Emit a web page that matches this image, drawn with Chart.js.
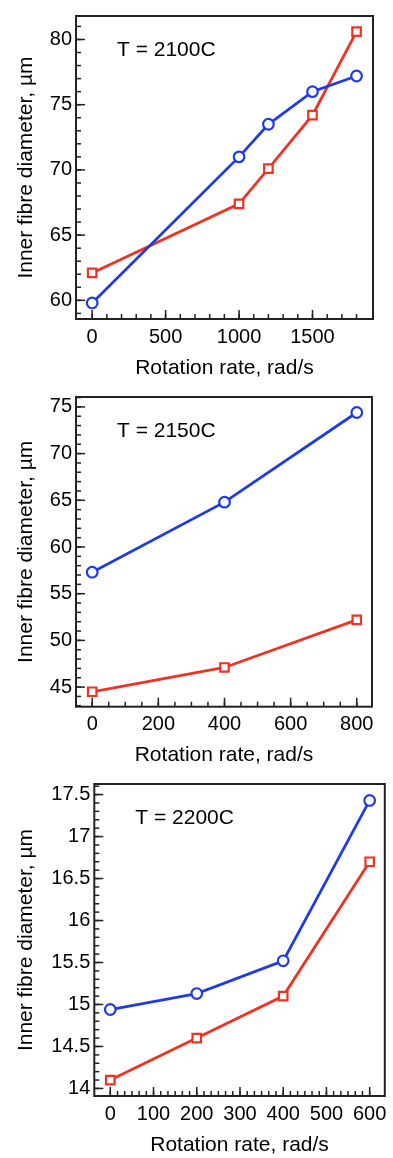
<!DOCTYPE html>
<html lang="en">
<head>
  <meta charset="UTF-8">
  <title>Inner fibre diameter vs rotation rate</title>
  <script src="https://cdn.jsdelivr.net/npm/chart.js"></script>
  <style>
    body { margin: 0; background: #fff; }
    canvas { display: block; }
  </style>
</head>
<body>
  <canvas id="chart2100" width="393" height="381"></canvas>
  <canvas id="chart2150" width="393" height="387"></canvas>
  <canvas id="chart2200" width="393" height="390"></canvas>

  <script>
    // T = 2100C
    const rate2100 = [0, 1000, 1200, 1500, 1800];
    const blue2100 = [59.8, 71.0, 73.5, 76.0, 77.2];
    const red2100 = [62.1, 67.4, 70.1, 74.2, 80.6];
    const xTicks2100 = [0, 500, 1000, 1500];
    const yTicks2100 = [60, 65, 70, 75, 80];

    // T = 2150C
    const rate2150 = [0, 400, 800];
    const blue2150 = [57.3, 64.8, 74.4];
    const red2150 = [44.5, 47.1, 52.2];
    const xTicks2150 = [0, 200, 400, 600, 800];
    const yTicks2150 = [45, 50, 55, 60, 65, 70, 75];

    // T = 2200C
    const rate2200 = [0, 200, 400, 600];
    const blue2200 = [14.94, 15.13, 15.52, 17.43];
    const red2200 = [14.1, 14.6, 15.1, 16.7];
    const xTicks2200 = [0, 100, 200, 300, 400, 500, 600];
    const yTicks2200 = [14, 14.5, 15, 15.5, 16, 16.5, 17, 17.5];

    const BLUE = '#1f3be6';
    const RED = '#ee3322';
    const INK = '#000';
    const FONT = '"Liberation Sans", Arial, Helvetica, sans-serif';

    // box around the plot area + inward ticks on left and bottom, + the T label
    const framePlugin = {
      id: 'frame',
      beforeDatasetsDraw(chart, args, opts) {
        const { ctx, chartArea: a, scales } = chart;
        ctx.save();
        ctx.strokeStyle = '#222';
        ctx.lineWidth = 1.5;
        const tick = (v, len, axis) => {
          ctx.beginPath();
          if (axis === 'x') {
            const px = scales.x.getPixelForValue(v);
            ctx.moveTo(px, a.bottom);
            ctx.lineTo(px, a.bottom - len);
          } else {
            const py = scales.y.getPixelForValue(v);
            ctx.moveTo(a.left, py);
            ctx.lineTo(a.left + len, py);
          }
          ctx.stroke();
        };
        for (let v = opts.minorX[0]; v <= opts.minorX[1] + 1e-9; v += opts.minorX[2]) tick(v, 5, 'x');
        for (let v = opts.minorY[0]; v <= opts.minorY[1] + 1e-9; v += opts.minorY[2]) tick(v, 5, 'y');
        scales.x.ticks.forEach(t => tick(t.value, 9, 'x'));
        scales.y.ticks.forEach(t => tick(t.value, 9, 'y'));

        ctx.lineWidth = 2;
        ctx.strokeRect(a.left, a.top, a.right - a.left, a.bottom - a.top);

        ctx.fillStyle = INK;
        ctx.font = '21px ' + FONT;
        ctx.textBaseline = 'middle';
        ctx.textAlign = 'left';
        ctx.fillText(opts.label, a.left + 41, a.top + 34);
        ctx.restore();
      }
    };

    function makeChart(id, rates, blue, red, xTicks, yTicks, s) {
      const ctx = document.getElementById(id).getContext('2d');
      return new Chart(ctx, {
        type: 'line',
        data: {
          datasets: [{
            data: rates.map((r, i) => ({ x: r, y: blue[i] })),
            borderColor: BLUE,
            borderWidth: 2.8,
            pointStyle: 'circle',
            pointRadius: 5.3,
            pointBorderWidth: 2.2,
            pointBackgroundColor: '#fff',
            pointBorderColor: BLUE
          }, {
            data: rates.map((r, i) => ({ x: r, y: red[i] })),
            borderColor: RED,
            borderWidth: 2.8,
            pointStyle: 'rect',
            pointRadius: 6,
            pointBorderWidth: 2.2,
            pointBackgroundColor: '#fff',
            pointBorderColor: RED
          }]
        },
        options: {
          responsive: false,
          animation: false,
          devicePixelRatio: 1,
          layout: { padding: { top: s.top, right: s.right, left: 0, bottom: 0 } },
          plugins: {
            legend: { display: false },
            tooltip: { enabled: false },
            frame: { label: s.label, minorX: s.minorX, minorY: s.minorY }
          },
          scales: {
            x: {
              type: 'linear',
              min: s.xMin,
              max: s.xMax,
              afterBuildTicks: sc => { sc.ticks = xTicks.map(v => ({ value: v })); },
              afterFit: sc => { sc.height = s.xHeight; },
              grid: { display: false, drawTicks: false },
              border: { display: false },
              ticks: { padding: 6, color: INK, font: { family: FONT, size: 20 }, callback: v => v, maxRotation: 0, autoSkip: false },
              title: { display: true, text: 'Rotation rate, rad/s', color: INK, font: { family: FONT, size: 21 }, padding: 0 }
            },
            y: {
              type: 'linear',
              min: s.yMin,
              max: s.yMax,
              afterBuildTicks: sc => { sc.ticks = yTicks.map(v => ({ value: v })); },
              afterFit: sc => { sc.width = s.yWidth; },
              grid: { display: false, drawTicks: false },
              border: { display: false },
              ticks: { padding: 4, color: INK, font: { family: FONT, size: 20 }, callback: v => v, autoSkip: false },
              title: { display: true, text: 'Inner fibre diameter, \u00b5m', color: INK, font: { family: FONT, size: 21 }, padding: { top: 14, bottom: 0 } }
            }
          }
        },
        plugins: [framePlugin]
      });
    }

    makeChart('chart2100', rate2100, blue2100, red2100, xTicks2100, yTicks2100, {
      label: 'T = 2100C', top: 5, right: 20, xHeight: 62, yWidth: 76,
      xMin: -110, xMax: 1912, yMin: 58.57, yMax: 81.8,
      minorX: [0, 1800, 100], minorY: [59, 81, 1]
    });
    makeChart('chart2150', rate2150, blue2150, red2150, xTicks2150, yTicks2150, {
      label: 'T = 2150C', top: 12.3, right: 21, xHeight: 61.3, yWidth: 76,
      xMin: -49, xMax: 846, yMin: 42.9, yMax: 76.06,
      minorX: [0, 800, 50], minorY: [43, 76, 1]
    });
    makeChart('chart2200', rate2200, blue2200, red2200, xTicks2200, yTicks2200, {
      label: 'T = 2200C', top: 14.7, right: 3, xHeight: 62, yWidth: 94.3,
      xMin: -37, xMax: 635, yMin: 13.91, yMax: 17.626,
      minorX: [0, 600, 100 / 6], minorY: [14, 17.6, 0.1]
    });
  </script>
</body>
</html>
